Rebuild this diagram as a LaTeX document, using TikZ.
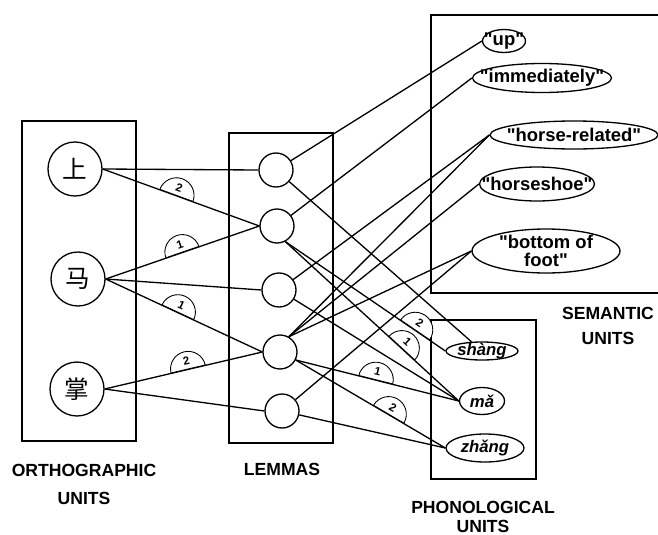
\documentclass[tikz,border=0pt]{standalone}
\usepackage{fontspec}
\setmainfont{Liberation Sans}[Ligatures=TeXOff]
\newfontfamily\cjkfont{Noto Sans CJK SC}
\usepackage{tikz}
\usetikzlibrary{calc}
\usetikzlibrary{shapes,arrows,positioning}

\begin{document}
\begin{tikzpicture}[x=0.02cm,y=-0.02cm,line width=0.75pt,
  box/.style={line width=0.6pt},
  ortho/.style={draw, circle, minimum size=1.08cm, inner sep=0pt, font=\cjkfont\fontsize{14}{14}\selectfont},
  lemma/.style={draw, circle, minimum size=0.68cm, inner sep=0pt},
  sem/.style={draw, ellipse, inner sep=0pt},
  semtext/.style={font=\bfseries\fontsize{10.5}{12}\selectfont, align=center},
  phontext/.style={font=\bfseries\itshape\fontsize{9.5}{11}\selectfont},
  unitlabel/.style={font=\bfseries\fontsize{10}{12}\selectfont, align=center},
  numtag/.style={draw, semicircle, fill=white, inner sep=2.3pt, line width=0.5pt,
    sloped, anchor=chord center, font=\bfseries\fontsize{6.5}{6.5}\selectfont}]

\useasboundingbox (0,0) rectangle (658,534);

% boxes
\draw[box] (22,121) rectangle (136,441);
\draw[box] (229,133) rectangle (333,443);
\draw[box] (658,15) -- (431,15) -- (431,293) -- (658,293);
\draw[box] (431,320) rectangle (536,479);

% orthographic units
\node[ortho] (shang) at (75,169) {上};
\node[ortho] (ma)    at (78,279) {马};
\node[ortho] (zhang) at (77,389) {掌};

% lemmas
\node[lemma] (lem1) at (276,170) {};
\node[lemma] (lem2) at (277,226) {};
\node[lemma] (lem3) at (279,290) {};
\node[lemma] (lem4) at (280,352) {};
\node[lemma] (lem5) at (282,411) {};

% semantic units
\node[sem, minimum width=0.86cm, minimum height=0.46cm, label={[semtext]center:"up"}] (up) at (504,41) {};
\node[sem, minimum width=2.78cm, minimum height=0.58cm, label={[semtext]center:"immediately"}] (immed) at (542,78) {};
\node[sem, minimum width=3.36cm, minimum height=0.56cm, label={[semtext]center:"horse-related"}] (horse) at (574,135) {};
\node[sem, minimum width=2.3cm, minimum height=0.68cm, label={[semtext]center:"horseshoe"}] (shoe) at (537,184) {};
\node[sem, minimum width=2.96cm, minimum height=0.88cm, label={[semtext]center:"bottom of\\[-2pt]foot"}] (foot) at (546,251) {};

% phonological units
\node[sem, minimum width=1.44cm, minimum height=0.36cm, label={[phontext]center:shàng}] (pshang) at (482,351) {};
\node[sem, minimum width=0.9cm, minimum height=0.54cm, label={[phontext]center:mǎ}] (pma) at (482,401) {};
\node[sem, minimum width=1.56cm, minimum height=0.56cm, label={[phontext]center:zhǎng}] (pzhang) at (485,448) {};

% unit names
\node[unitlabel] (orthlab) at (84,484) {ORTHOGRAPHIC\\[4pt]UNITS};
\node[unitlabel] (lemlab)  at (282,469) {LEMMAS};
\node[unitlabel] (semlab)  at (608,326) {SEMANTIC\\[2.7pt]UNITS};
\node[unitlabel] (phonlab) at (483,517) {PHONOLOGICAL\\[-0.7pt]UNITS};

% orthographic units to lemmas
\draw (shang.east) -- (lem1.west);
\draw (shang.east) -- node[numtag, pos=0.47] {2} (lem2.west);
\draw (ma.east) -- node[numtag, pos=0.5] {1} (lem2.west);
\draw (ma.east) -- (lem3.west);
\draw (ma.east) -- node[numtag, pos=0.46] {1} (lem4.west);
\draw (zhang.east) -- node[numtag, pos=0.53] {2} (lem4.west);
\draw (zhang.east) -- (lem5.west);

% lemmas to semantic units
\draw (lem1) -- (up.west);
\draw (lem2) -- (immed.west);
\draw (lem3) -- (horse.west);
\foreach \s in {horse, shoe, foot}
  \draw (lem4.60) -- (\s.west);
\draw (lem5) -- (foot.west);

% lemmas to phonological units
\draw (lem1) -- (pshang);
\draw (lem2.-62) -- node[numtag, pos=0.81] {2} (pshang.west);
\draw (lem2.-62) -- node[numtag, pos=0.67] {1} (pma.west);
\draw (lem3) -- (pma.west);
\draw (lem4.-27) -- node[numtag, pos=0.49] {1} (pma.west);
\draw (lem4.-27) -- node[numtag, pos=0.62] {2} (pzhang.west);
\draw (lem5) -- (pzhang.west);

\end{tikzpicture}
\end{document}
